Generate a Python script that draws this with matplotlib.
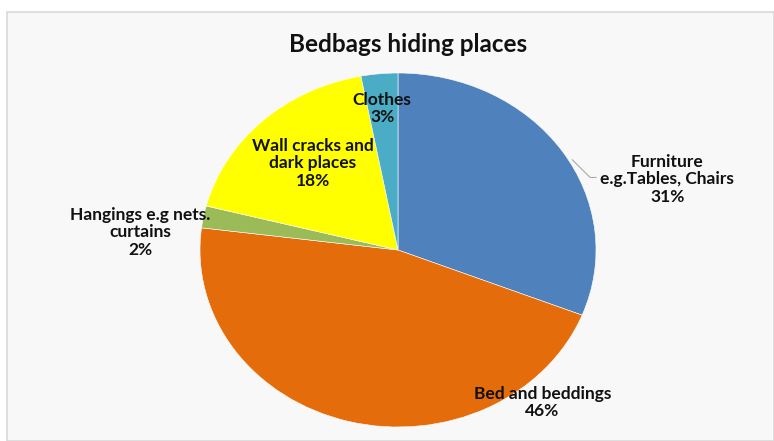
import numpy as np
import matplotlib.pyplot as plt
import matplotlib.patches as mpatches

plt.rcParams['font.family'] = ['Lato', 'DejaVu Sans']

labels = ['Furniture\ne.g.Tables, Chairs', 'Bed and beddings',
          'Hangings e.g nets.\ncurtains', 'Wall cracks and\ndark places', 'Clothes']
values = [31, 46, 2, 18, 3]
colors = ['#4F81BD', '#E46C0A', '#9BBB59', '#FFFF00', '#4BACC6']

# label centres in pie units (x: horizontal radius, y: vertical radius)
label_pos = [(1.36, 0.40), (0.73, -0.86), (-1.30, 0.10), (-0.43, 0.49), (-0.08, 0.80)]

fig = plt.figure(figsize=(7.74, 4.41), dpi=100)
fig.patch.set_facecolor('white')

# chart area frame
frame = mpatches.Rectangle((7/774, 0), 1 - 7/774, 1 - 12/441, transform=fig.transFigure,
                           facecolor='#f8f8f8', edgecolor='#d9d9d9', linewidth=1.2, zorder=-5)
fig.patches.append(frame)

fig.text(408/774, 1 - 45/441, 'Bedbags hiding places', ha='center', va='center',
         fontsize=17.5, fontweight='bold', color='#111111')

ax = fig.add_axes([200/774, 14/441, 396/774, 354/441])
ax.set_zorder(2)
wedges, _ = ax.pie(values, colors=colors, startangle=90, counterclock=False,
                   wedgeprops=dict(linewidth=0.4, edgecolor='white'))
ax.set_aspect('auto')
ax.set_xlim(-1, 1)
ax.set_ylim(-1, 1)

for lab, v, (x, y) in zip(labels, values, label_pos):
    ax.text(x, y, f'{lab}\n{v}%', ha='center', va='center', multialignment='center',
            fontsize=12.5, fontweight='bold', color='#111111', linespacing=1.1,
            clip_on=False)

# leader line for the furniture label
ax.plot([0.88, 0.97, 1.0], [0.51, 0.41, 0.41], color='#a0a0a0', linewidth=0.7, clip_on=False)

fig.savefig('out.png', dpi=100)
